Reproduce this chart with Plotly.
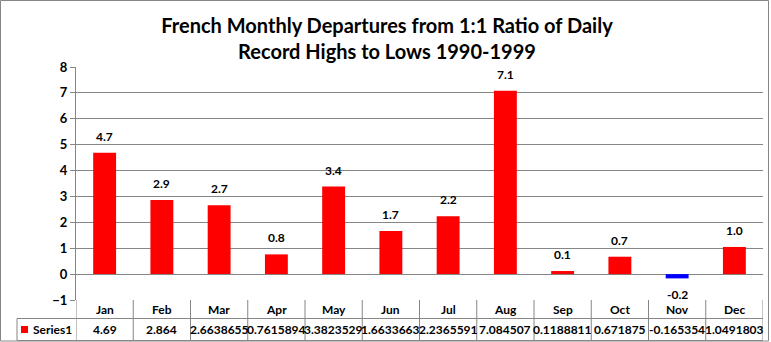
import plotly.graph_objects as go

months = ["Jan", "Feb", "Mar", "Apr", "May", "Jun", "Jul", "Aug", "Sep", "Oct", "Nov", "Dec"]
values = [4.69, 2.864, 2.6638655, 0.7615894, 3.3823529, 1.6633663, 2.2365591, 7.084507, 0.1188811, 0.671875, -0.165354, 1.0491803]
table_text = ["4.69", "2.864", "2.6638655", "0.7615894", "3.3823529", "1.6633663", "2.2365591", "7.084507", "0.1188811", "0.671875", "-0.165354", "1.0491803"]
series_name = "Series1"
title = "French Monthly Departures from 1:1 Ratio of Daily<br>Record Highs to Lows 1990-1999"

FONT = "Lato"
W, H = 771, 342
ML, MR, MT, MB = 76, 8, 67, 42
PW, PH = W - ML - MR, H - MT - MB

def px_x(x):
    return (x - ML) / PW

def px_y(y):
    return (H - MB - y) / PH

colors = ["#FF0000" if v >= 0 else "#0000FF" for v in values]
idx = list(range(len(months)))

fig = go.Figure(go.Bar(
    x=idx, y=values, marker=dict(color=colors, line=dict(width=0)),
    hoverinfo="skip",
))

grid = "#868686"
shapes = []
annots = []
y_top = 0
y_mid = px_y(318.5)
y_bot = px_y(340.5)
# table horizontal lines
shapes.append(dict(type="line", xref="x", yref="paper", x0=-0.5, x1=len(months) - 0.5, y0=y_mid, y1=y_mid, line=dict(color=grid, width=1)))
shapes.append(dict(type="line", xref="paper", yref="paper", x0=px_x(17), x1=1, y0=y_bot, y1=y_bot, line=dict(color=grid, width=1)))
shapes.append(dict(type="line", xref="paper", yref="paper", x0=px_x(17), x1=0, y0=y_mid, y1=y_mid, line=dict(color=grid, width=1)))
shapes.append(dict(type="line", xref="paper", yref="paper", x0=px_x(17), x1=px_x(17), y0=y_mid, y1=y_bot, line=dict(color=grid, width=1)))
# vertical lines
for i in range(len(months) + 1):
    shapes.append(dict(type="line", xref="x", yref="paper", x0=i - 0.5, x1=i - 0.5, y0=y_top, y1=y_bot, line=dict(color=grid, width=1)))
# legend key
shapes.append(dict(type="rect", xref="paper", yref="paper", x0=px_x(21), x1=px_x(28), y0=px_y(333), y1=px_y(326), fillcolor="#FF0000", line=dict(width=0)))
# outer border
shapes.append(dict(type="rect", xref="paper", yref="paper", x0=px_x(0.5), x1=px_x(768.5), y0=px_y(341), y1=px_y(0.5), line=dict(color=grid, width=1)))

lab_font = dict(family=FONT, size=12, color="#000", weight="bold")
for i, v in enumerate(values):
    annots.append(dict(x=i, y=v, xref="x", yref="y", text=f"{v:.1f}", showarrow=False,
                       yanchor="bottom" if v >= 0 else "top", yshift=7 if v >= 0 else -7,
                       font=lab_font))

for i, (m, t) in enumerate(zip(months, table_text)):
    annots.append(dict(x=i, y=px_y(309), xref="x", yref="paper", text=m, showarrow=False,
                       font=dict(family=FONT, size=12, color="#000", weight="bold"), yanchor="middle"))
    annots.append(dict(x=i, y=px_y(329.5), xref="x", yref="paper", text=t, showarrow=False,
                       font=dict(family=FONT, size=12, color="#000", weight="bold"), yanchor="middle"))
annots.append(dict(x=px_x(31), y=px_y(329.5), xref="paper", yref="paper", text=series_name, showarrow=False,
                   xanchor="left", font=dict(family=FONT, size=12, color="#000", weight="bold"), yanchor="middle"))

fig.update_layout(
    width=W, height=H, margin=dict(l=ML, r=MR, t=MT, b=MB),
    paper_bgcolor="white", plot_bgcolor="white", showlegend=False,
    bargap=0.6,
    title=dict(text=title, x=387 / W, xanchor="center", y=1 - 33 / H, yanchor="top",
               font=dict(family=FONT, size=20, color="#000", weight="bold")),
    xaxis=dict(range=[-0.5, len(months) - 0.5], showticklabels=False, showgrid=False, zeroline=False,
               showline=False, ticks=""),
    yaxis=dict(range=[-1, 8], dtick=1, showgrid=True, gridcolor=grid, gridwidth=1,
               zeroline=True, zerolinecolor=grid, zerolinewidth=1,
               showline=True, linecolor=grid, linewidth=1, ticks="outside", ticklen=5, tickcolor=grid,
               tickfont=dict(family=FONT, size=13, color="#000", weight="bold")),
    shapes=shapes, annotations=annots,
)
fig.write_html("out.html")
